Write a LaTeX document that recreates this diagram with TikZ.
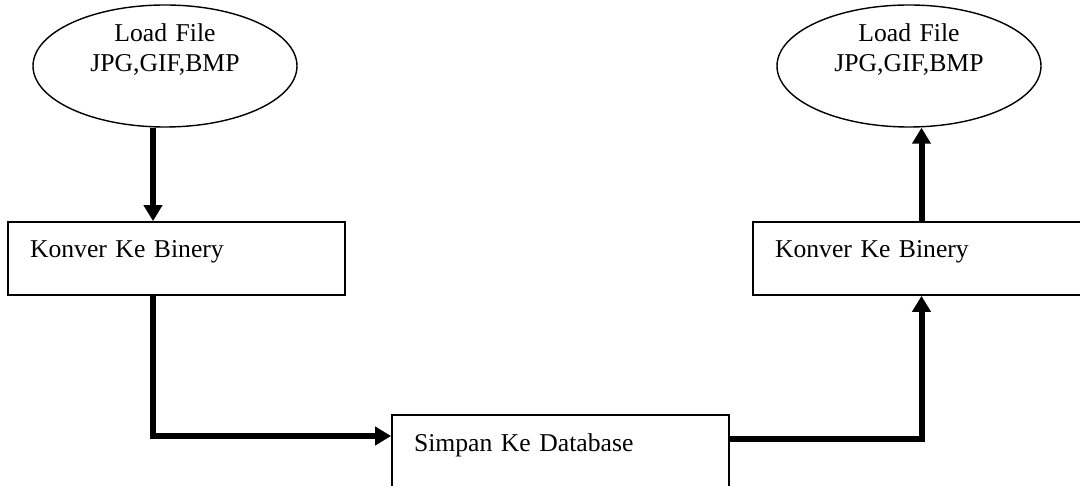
\documentclass[tikz,border=0pt]{standalone}
\usepackage{fontspec}
\setmainfont{Liberation Serif}
\usepackage{tikz}
\usetikzlibrary{shapes,positioning,calc}
\usetikzlibrary{shapes.geometric, arrows}
\usetikzlibrary{arrows.meta}
\tikzstyle{berkas} = [ellipse, minimum width=5.28cm, minimum height=2.44cm, inner sep=0pt,
text width=3.6cm, align=center, text height=0.3cm, text depth=1.26cm, draw=black, line width=0.8pt]
\tikzstyle{proses} = [rectangle, minimum width=6.74cm, text width=5.86cm, align=left,
inner xsep=0.44cm, inner ysep=0pt, text height=0.72cm, text depth=0.74cm, draw=black, line width=1pt]
\tikzstyle{panah} = [line width=0.12cm,-{Triangle[length=0.32cm,width=0.36cm]}]

\begin{document}
\begin{tikzpicture}[font=\fontsize{14.6}{17}\selectfont]
	\useasboundingbox (0,0) rectangle (21.6,9.7);
	\node (load1) at (3.30,8.38) [berkas] {Load File\\JPG,GIF,BMP};
	\node (load2) at (18.18,8.38) [berkas] {Load File\\JPG,GIF,BMP};
	\node (konv1) at (3.53,4.53) [proses] {Konver Ke Binery};
	\node (konv2) at (18.43,4.53) [proses] {Konver Ke Binery};
	\node (simpan) at (11.21,0.67) [proses] {Simpan Ke Database};
	\coordinate (t1) at ([xshift=-0.47cm]konv1.north);
	\draw[panah] (t1 |- load1.south) -- (t1);
	\draw[panah] (t1 |- konv1.south) |- ([yshift=0.31cm]simpan.west);
	\draw[panah] ([yshift=0.25cm]simpan.east) -| (konv2.south);
	\draw[panah] (konv2.north) -- (konv2.north |- load2.south);
\end{tikzpicture}
\end{document}
